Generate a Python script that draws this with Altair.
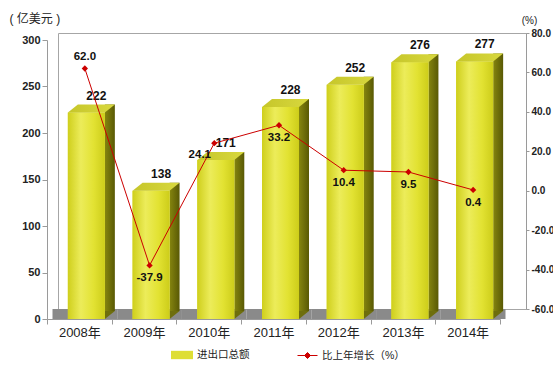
import altair as alt
import pandas as pd

# ---- data ----
years = ["2008年", "2009年", "2010年", "2011年", "2012年", "2013年", "2014年"]
totals = [222, 138, 171, 228, 252, 276, 277]
growth = [62.0, -37.9, 24.1, 33.2, 10.4, 9.5, 0.4]
bar_name = "进出口总额"
line_name = "比上年增长（%）"
left_ticks = [0, 50, 100, 150, 200, 250, 300]
right_ticks = [-60, -40, -20, 0, 20, 40, 60, 80]

df = pd.DataFrame({"year": years, "total": totals, "growth": growth})
df["s1"] = bar_name
df["s2"] = line_name

FONT = "Liberation Sans, Arial, Noto Sans CJK SC"
AX = "#9a9a9a"
HYPHEN_FMT = "(datum.value < 0 ? '-' : '') + format(abs(datum.value), '.1f')"

# ---- encodings ----
X = alt.X(
    "year:N", sort=years,
    scale=alt.Scale(range=[-11, 442], paddingInner=0, paddingOuter=0),
    axis=alt.Axis(title=None, orient="bottom", offset=10, tickBand="extent",
                  labelAngle=0, labelFontSize=13, labelColor="#222", labelFont=FONT,
                  labelPadding=2, domainColor=AX, tickColor=AX, tickSize=5),
)

left_scale = alt.Scale(domain=[0, 300], range=[286, 7], nice=False, zero=True)
left_axis = alt.Axis(
    values=left_ticks, offset=11, grid=False, labelFontWeight="bold", labelFontSize=11,
    labelColor="#222", labelFont=FONT, labelPadding=2, tickSize=5, tickColor=AX,
    domainColor=AX, title="( 亿美元 )", titleAngle=0, titleAlign="left",
    titleBaseline="middle", titleX=-38, titleY=-15, titleFont=FONT,
    titleFontSize=12, titleFontWeight="normal", titleColor="#222",
)


def yl(field):
    return alt.Y(f"{field}:Q", scale=left_scale, axis=left_axis)


right_axis = alt.Axis(
    orient="right", values=right_ticks, labelExpr=HYPHEN_FMT, grid=False,
    labelFontWeight="bold", labelFontSize=10, labelColor="#222", labelFont=FONT,
    labelPadding=2, tickSize=3, tickColor=AX, domainColor=AX,
    title="(%)", titleAngle=0, titleAlign="center", titleBaseline="middle",
    titleX=3, titleY=-13, titleFont=FONT, titleFontSize=10,
    titleFontWeight="normal", titleColor="#222",
)
YR = alt.Y("growth:Q", scale=alt.Scale(domain=[-60, 80], nice=False, zero=False),
           axis=right_axis)

front_grad = alt.LinearGradient(
    gradient="linear", x1=0, x2=1, y1=0, y2=0,
    stops=[alt.GradientStop(color="#cfcf1c", offset=0),
           alt.GradientStop(color="#ecec5a", offset=0.35),
           alt.GradientStop(color="#e2e232", offset=0.7),
           alt.GradientStop(color="#cdcd1a", offset=1)])
side_grad = alt.LinearGradient(
    gradient="linear", x1=0, x2=1, y1=0, y2=0,
    stops=[alt.GradientStop(color="#85850f", offset=0),
           alt.GradientStop(color="#595904", offset=1)])
top_grad = alt.LinearGradient(
    gradient="linear", x1=0, x2=1, y1=0, y2=0,
    stops=[alt.GradientStop(color="#c6c62a", offset=0),
           alt.GradientStop(color="#d8d83e", offset=1)])

base = alt.Chart(df).transform_calculate(zero="0")

floor = base.mark_rect(color="#8a8a8a", xOffset=5.5, x2Offset=5.5, y2Offset=-10).encode(
    x=X, y=yl("zero"), y2=alt.Y2("zero:Q"))

side = base.mark_bar(width=10, xOffset=30.5, yOffset=-8, y2Offset=-8, fill=side_grad).encode(
    x=X, y=yl("total"), y2=alt.Y2("zero:Q"))

side_tri = base.mark_point(shape="M -1 -0.8 L 1 -0.8 L -1 0.8 Z", size=100, filled=True,
                           fill="#6e6e0c", opacity=1, strokeWidth=0,
                           xOffset=30.5, yOffset=-4).encode(x=X, y=yl("zero"))

front_legend = base.mark_bar(width=37, xOffset=7).encode(
    x=X, y=yl("total"), y2=alt.Y2("zero:Q"),
    color=alt.Color("s1:N", scale=alt.Scale(domain=[bar_name], range=["#dede34"]),
                    legend=alt.Legend(title=None, orient="none", legendX=113, legendY=311,
                                      padding=0,
                                      symbolType="M -1 -0.38 L 1 -0.38 L 1 0.38 L -1 0.38 Z",
                                      symbolSize=484, symbolStrokeWidth=0,
                                      labelFont=FONT, labelFontSize=10.5,
                                      labelColor="#222", labelOffset=4)))

front = base.mark_bar(width=37, xOffset=7, fill=front_grad).encode(
    x=X, y=yl("total"), y2=alt.Y2("zero:Q"))

top = base.mark_point(shape="M -1 0.17 L -0.574 -0.17 L 1 -0.17 L 0.574 0.17 Z",
                      size=2209, filled=True, fill=top_grad, opacity=1, strokeWidth=0,
                      xOffset=12, yOffset=-4).encode(x=X, y=yl("total"))

bar_labels = base.mark_text(font=FONT, fontSize=12, fontWeight="bold", color="#111",
                            baseline="bottom", xOffset=17, yOffset=-10).encode(
    x=X, y=yl("total"), text=alt.Text("total:Q"))

bars = alt.layer(floor, side, side_tri, front_legend, front, top, bar_labels)

lbase = alt.Chart(df).transform_calculate(
    glabel="(datum.growth < 0 ? '-' : '') + format(abs(datum.growth), '.1f')")
line = lbase.mark_line(strokeWidth=1, xOffset=5.5).encode(
    x=X, y=YR,
    stroke=alt.Stroke("s2:N", scale=alt.Scale(domain=[line_name], range=["#cc0000"]),
                      legend=alt.Legend(title=None, orient="none", legendX=239, legendY=312,
                                        padding=0,
                                        symbolType="M -1 0 L 1 0 M -0.3 0 L 0 -0.3 L 0.3 0 L 0 0.3 Z",
                                        symbolSize=400, symbolFillColor="#cc0000",
                                        symbolStrokeWidth=1,
                                        labelFont=FONT, labelFontSize=10.5,
                                        labelColor="#222", labelOffset=4)))
pts = lbase.mark_point(shape="diamond", filled=True, size=40, color="#cc0000", opacity=1,
                       xOffset=5.5).encode(x=X, y=YR)

txt = dict(font=FONT, fontSize=11.5, fontWeight="bold", color="#111", baseline="middle")
lab_above = lbase.transform_filter(alt.datum.year == years[0]).mark_text(
    xOffset=5.5, yOffset=-11, **txt).encode(x=X, y=YR, text="glabel:N")
lab_left = lbase.transform_filter(alt.datum.year == years[2]).mark_text(
    xOffset=-9, yOffset=12, **txt).encode(x=X, y=YR, text="glabel:N")
lab_below = lbase.transform_filter(
    (alt.datum.year != years[0]) & (alt.datum.year != years[2])).mark_text(
    xOffset=5.5, yOffset=13, **txt).encode(x=X, y=YR, text="glabel:N")

lines = alt.layer(line, pts, lab_above, lab_left, lab_below)

chart = alt.layer(bars, lines).resolve_scale(y="independent").properties(
    width=468, height=276,
    autosize=alt.AutoSizeParams(type="none"),
    padding={"left": 58, "top": 33, "right": 27, "bottom": 68},
    background="white",
).configure_view(stroke="#a6a6a6", strokeWidth=1)

chart.save("out.html", embed_options={"renderer": "svg", "actions": False})
